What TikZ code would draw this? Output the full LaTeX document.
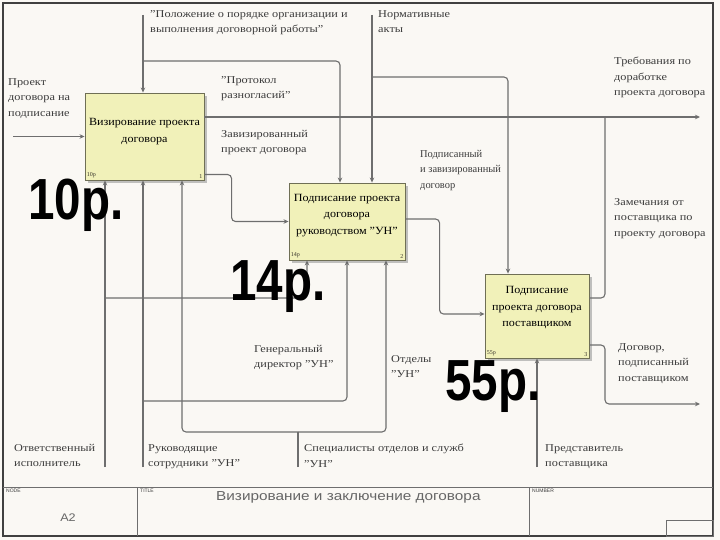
\documentclass[tikz,border=0pt]{standalone}
\usepackage{fontspec}
\setmainfont{Liberation Serif}
\newfontfamily\arialfont{Liberation Sans}
\usetikzlibrary{shadows,arrows.meta}
\definecolor{boxfill}{HTML}{F1F1B9}
\definecolor{boxline}{HTML}{6F6F55}
\definecolor{lineclr}{HTML}{6E6E6E}
\definecolor{txtclr}{HTML}{3C3C3C}
\definecolor{paper}{HTML}{FAF8F4}

\begin{document}
\begin{tikzpicture}[x=1pt,y=-1pt,>={Stealth[length=5pt,width=4.5pt]},
  blok/.style={draw=boxline,fill=boxfill,line width=0.9pt,align=center,text=black!80!olive,
    drop shadow={shadow xshift=3pt,shadow yshift=-3pt,fill=black!40,opacity=0.6}},
  bloktxt/.style={font=\fontsize{11}{16.5}\selectfont,xscale=1.1},
  lbl/.style={anchor=north west,align=left,text=txtclr,font=\fontsize{10.5}{15.5}\selectfont,inner sep=0pt,xscale=1.17},
  arr/.style={->,draw=lineclr,line width=1.1pt,rounded corners=4pt},
  lin/.style={draw=lineclr,line width=1.1pt,rounded corners=4pt},
  cena/.style={anchor=base west,font=\arialfont\bfseries\fontsize{58}{58}\selectfont,xscale=0.82,inner sep=0pt},
  malo/.style={font=\fontsize{6}{6}\selectfont,inner sep=2pt,text=black!80!olive}]

% 背景与边框
\fill[paper] (0,0) rectangle (720,540);
\useasboundingbox (0,0) rectangle (720,540);
\draw[black!75,line width=1.5pt] (3,3) rectangle (713,536);
\draw[lineclr,line width=1pt] (3,487) -- (713,487);
\draw[lineclr,line width=1pt] (137,487) -- (137,536);
\draw[lineclr,line width=1pt] (529,487) -- (529,536);
\draw[lineclr,line width=0.8pt] (666,520) rectangle (713,536);
\node[font=\arialfont\fontsize{5}{5}\selectfont,anchor=north west,text=txtclr,inner sep=1pt] (hNode) at (5,488) {NODE};
\node[font=\arialfont\fontsize{5}{5}\selectfont,anchor=north west,text=txtclr,inner sep=1pt] (hTitle) at (139,488) {TITLE};
\node[font=\arialfont\fontsize{5}{5}\selectfont,anchor=north west,text=txtclr,inner sep=1pt] (hNum) at (531,488) {NUMBER};
\node[font=\arialfont\fontsize{11}{11}\selectfont,text=black!60,xscale=1.15] (nodeA2) at (68,518) {A2};
\node[font=\arialfont\fontsize{13}{13}\selectfont,text=black!60,xscale=1.18,anchor=west] (title) at (212,497) {Визирование и заключение договора};

% 功能块
\node[blok,minimum width=119pt,minimum height=87pt] (A1) at (144.5,136.5) {};
\node[blok,minimum width=116pt,minimum height=77pt] (A2) at (347,221.5) {};
\node[blok,minimum width=104pt,minimum height=84pt] (A3) at (537,316) {};
\node[bloktxt,align=center] (t1) at ([yshift=5pt]A1.center) {Визирование проекта\\договора};
\node[bloktxt,align=center] (t2) at ([yshift=6pt]A2.center) {Подписание проекта\\договора\\руководством "УН"};
\node[bloktxt,align=center] (t3) at ([yshift=8pt]A3.center) {Подписание\\проекта договора\\поставщиком};
\node[malo,anchor=south east] (n1) at (A1.south east) {1};
\node[malo,anchor=south east] (n2) at (A2.south east) {2};
\node[malo,anchor=south east] (n3) at (A3.south east) {3};
\node[malo,anchor=south west] (k1) at (A1.south west) {10р};
\node[malo,anchor=south west] (k2) at (A2.south west) {14р};
\node[malo,anchor=south west] (k3) at (A3.south west) {55р};

% 箭头端点
\coordinate (in1) at (13,136.5);
\coordinate (c1) at (143,15);
\coordinate (c2) at (372,15);
\coordinate (o1) at (700,117);
\coordinate (o2) at (700,404);
\coordinate (m1) at (105,467);
\coordinate (m2) at (143,467);
\coordinate (m3) at (298,467);
\coordinate (m4) at (537,467);

% 输入与控制
\draw[arr] (in1) -- (A1.west);
\draw[arr] (c1) -- (c1 |- A1.north);
\draw[arr] (c1 |- 0,61) -| ([xshift=-7pt]A2.north);
\draw[arr] (c2) -- (c2 |- A2.north);
\draw[arr] (c2 |- 0,77) -| ([xshift=-29pt]A3.north);

% 输出
\draw[arr] ([yshift=19.5pt]A1.east) -- (o1);
\draw[lin] ([yshift=18pt]A3.east) -| ([xshift=-95pt]o1);
\draw[arr] ([yshift=-38pt]A1.east) -| ([xshift=-57pt]A2.west) -- (A2.west);
\draw[arr] ([yshift=2.5pt]A2.east) -| ([xshift=-45pt,yshift=2pt]A3.west) -- ([yshift=2pt]A3.west);
\draw[arr] ([yshift=-29pt]A3.east) -| ([xshift=-95pt]o2) -- (o2);

% 机制
\draw[arr] (m1) -- (m1 |- A1.south);
\draw[arr] (m1 |- 0,298) -| ([xshift=-40pt]A2.south);
\draw[arr] (m2) -- (m2 |- A1.south);
\draw[arr] (m2 |- 0,401) -| (A2.south);
\draw[lin] (m3) -- (m3 |- 0,432);
\draw[arr] (m3 |- 0,432) -| ([xshift=37.5pt]A1.south);
\draw[arr] (m3 |- 0,432) -| ([xshift=39pt]A2.south);
\draw[arr] (m4) -- (A3.south);

% 标注
\node[lbl] (tIn) at (8,78) {Проект\\договора на\\подписание};
\node[lbl] (tC1) at (150,10) {"Положение о порядке организации и\\выполнения договорной работы"};
\node[lbl] (tC2) at (378,10) {Нормативные\\акты};
\node[lbl] (tProt) at (221,76) {"Протокол\\разногласий"};
\node[lbl] (tViz) at (221,130) {Завизированный\\проект договора};
\node[lbl] (tTreb) at (614,57) {Требования по\\доработке\\проекта договора};
\node[lbl,xscale=0.85] (tPodp) at (420,150) {Подписанный\\и завизированный\\договор};
\node[lbl] (tZam) at (614,198) {Замечания от\\поставщика по\\проекту договора};
\node[lbl] (tDog) at (618,343) {Договор,\\подписанный\\поставщиком};
\node[lbl] (tGen) at (254,345) {Генеральный\\директор "УН"};
\node[lbl] (tOtd) at (391,355) {Отделы\\"УН"};
\node[lbl] (tOtv) at (14,444) {Ответственный\\исполнитель};
\node[lbl] (tRuk) at (148,444) {Руководящие\\сотрудники "УН"};
\node[lbl] (tSpec) at (304,444) {Специалисты отделов и служб\\"УН"};
\node[lbl] (tPred) at (545,444) {Представитель\\поставщика};

% 价格
\node[cena] (p1) at (28,220) {10р.};
\node[cena] (p2) at (230,300) {14р.};
\node[cena] (p3) at (445,400) {55р.};

\end{tikzpicture}
\end{document}
